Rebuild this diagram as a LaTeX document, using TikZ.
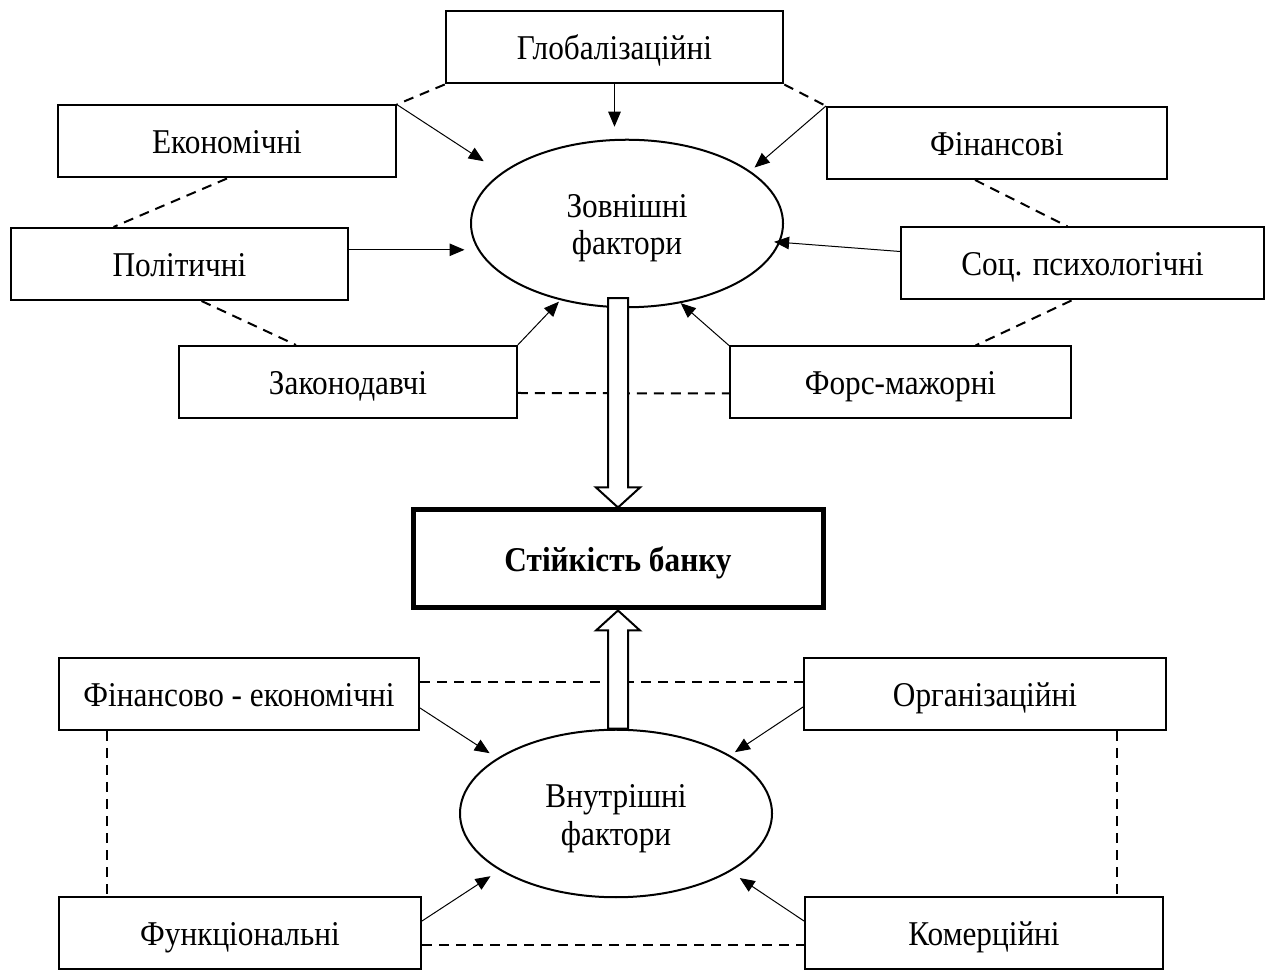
\documentclass[tikz,border=0pt]{standalone}
\usepackage{fontspec}
\setmainfont{Liberation Serif}[FakeStretch=0.9]
\usetikzlibrary{calc,shapes.geometric,arrows.meta}

\begin{document}
\begin{tikzpicture}[x=0.4pt,y=-0.4pt,
	box/.style={draw,line width=0.8pt,minimum width=135pt,minimum height=28.8pt,inner sep=0pt,text height=10pt,text depth=0pt,font=\fontsize{13.9}{15}\selectfont},
	oval/.style={draw,ellipse,line width=0.8pt,minimum width=124.8pt,minimum height=67pt,inner sep=0pt,align=center,text height=25.2pt,text depth=0pt,font=\fontsize{13.9}{14.8}\selectfont},
	link/.style={line width=0.8pt,dash pattern=on 4pt off 2.8pt},
	arr/.style={-{Triangle[length=6pt,width=5pt]},line width=0.4pt},
	hollow/.style={draw,fill=white,line width=0.8pt,line join=miter}]
	\useasboundingbox (0,0) rectangle (1266,970);

	%EXTERNAL FACTORS
	\node[oval] (ext) at (627,223.5) {Зовнішні\\фактори};
	\node[box] (glob) at (614.5,47.5) {Глобалізаційні};
	\node[box] (ekon) at (227,141.5) {Економічні};
	\node[box,minimum width=136pt] (fin) at (997,143) {Фінансові};
	\node[box] (pol) at (179.5,264) {Політичні};
	\node[box,minimum width=145.2pt] (soc) at (1082.5,263.5) {Соц. психологічні};
	\node[box] (zak) at (348,382) {Законодавчі};
	\node[box,minimum width=136.4pt] (fors) at (900.5,382.5) {Форс-мажорні};
	%
	\draw[link] (glob.south west) -- (ekon.north east);
	\draw[link] (glob.south east) -- (fin.north west);
	\draw[link] (ekon.south) -- ($(pol.north)+(-66,0)$);
	\draw[link] ($(pol.south)+(22,0)$) -- ($(zak.north)+(-52,0)$);
	\draw[link] ($(fin.south)+(-22,0)$) -- ($(soc.north)+(-15,0)$);
	\draw[link] ($(soc.south)+(-11,0)$) -- ($(fors.north)+(75,0)$);
	\draw[link] ($(zak.east)+(0,11)$) -- ($(fors.west)+(0,11)$);
	%
	\draw[arr,shorten >=4.8pt] (glob.south) -- (glob.south |- ext.north);
	\draw[arr,shorten >=8.4pt] (ekon.north east) -- (ext.158);
	\draw[arr,shorten >=2.2pt] (fin.north west) -- (ext.23);
	\draw[arr,shorten >=5.3pt] (pol.east |- ext.190) -- (ext.190);
	\draw[arr,shorten >=-2.4pt] ($(soc.west)+(0,-12)$) -- (ext.-7);
	\draw[arr,shorten >=0.8pt] (zak.north east) -- (ext.229);
	\draw[arr] (fors.north west) -- (ext.-56);

	%BANK
	\node[box,line width=2pt,minimum width=164pt,minimum height=39.2pt,font=\fontsize{13.9}{15}\selectfont\bfseries] (stab) at (618,559) {Стійкість банку};

	%INTERNAL FACTORS
	\node[oval] (int) at (616,813.5) {Внутрішні\\фактори};
	\node[box,minimum width=144pt] (fe) at (239,694) {Фінансово - економічні};
	\node[box,minimum width=144.8pt] (org) at (985,694) {Організаційні};
	\node[box,minimum width=144.8pt] (fn) at (240,933) {Функціональні};
	\node[box,minimum width=143.2pt] (com) at (984,933) {Комерційні};
	%
	\draw[link] ($(fe.east)+(0,-12)$) -- ($(org.west)+(0,-12)$);
	\draw[link] ($(fe.south)+(-132,0)$) -- ($(fn.north)+(-133,0)$);
	\draw[link] ($(org.south)+(132,0)$) -- ($(com.north)+(133,0)$);
	\draw[link] ($(fn.east)+(0,12)$) -- ($(com.west)+(0,12)$);
	%
	\draw[arr,shorten >=3.6pt] ($(fe.east)+(0,14)$) -- (int.155);
	\draw[arr,shorten >=2.3pt] ($(org.west)+(0,13)$) -- (int.27);
	\draw[arr,shorten >=4.3pt] ($(fn.east)+(0,-12)$) -- (int.206);
	\draw[arr,shorten >=4.6pt] ($(com.west)+(0,-12)$) -- (int.-27);

	%HOLLOW ARROWS
	\coordinate (htop) at ($(stab.north |- ext.south)+(0,-10)$);
	\draw[hollow] ($(htop)+(-10,0)$) -- ($(stab.north)+(-10,-20)$) -- ($(stab.north)+(-22,-20)$) -- (stab.north) -- ($(stab.north)+(22,-20)$) -- ($(stab.north)+(10,-20)$) -- ($(htop)+(10,0)$) -- cycle;
	\coordinate (hbot) at (stab.south |- int.north);
	\draw[hollow] ($(hbot)+(-10,0)$) -- ($(stab.south)+(-10,20)$) -- ($(stab.south)+(-22,20)$) -- (stab.south) -- ($(stab.south)+(22,20)$) -- ($(stab.south)+(10,20)$) -- ($(hbot)+(10,0)$) -- cycle;
\end{tikzpicture}
\end{document}
